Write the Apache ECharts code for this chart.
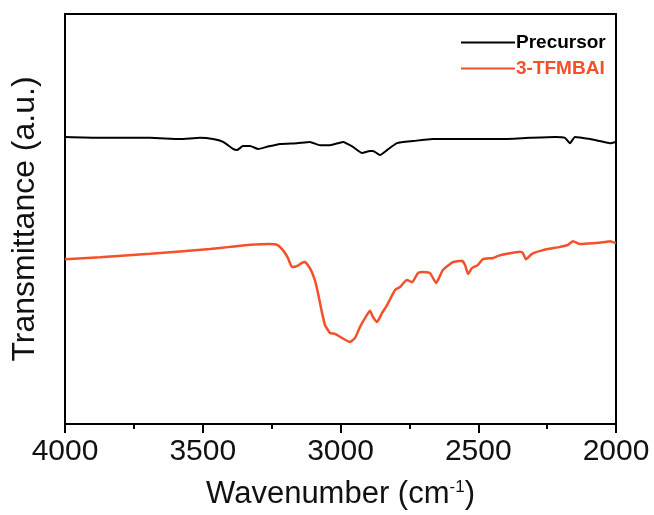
<!DOCTYPE html>
<html>
<head>
<meta charset="utf-8">
<script src="https://cdn.jsdelivr.net/npm/echarts@6/dist/echarts.min.js"></script>
<style>
  html, body { margin: 0; padding: 0; background: #fff; }
  #chart { width: 654px; height: 515px; }
</style>
</head>
<body>
<div id="chart"></div>
<script>
// wavenumber (cm-1) and transmittance (a.u.)
const precursorWn = [4000, 3873, 3691, 3583, 3510, 3463, 3426, 3390, 3376, 3354, 3328, 3299, 3267, 3220, 3158, 3111, 3074, 3038, 2991, 2955, 2922, 2893, 2882, 2857, 2831, 2795, 2737, 2664, 2603, 2421, 2312, 2221, 2185, 2167, 2149, 2094, 2058, 2022, 2000];
const precursorT = [70.0, 69.8, 69.8, 69.5, 69.8, 69.5, 68.8, 67.1, 66.8, 67.8, 67.8, 67.1, 67.6, 68.3, 68.5, 68.8, 68.0, 68.0, 68.8, 67.6, 66.1, 66.6, 66.6, 65.6, 66.8, 68.5, 69.0, 69.5, 69.5, 69.5, 69.8, 70.0, 69.8, 68.5, 70.0, 69.5, 69.0, 68.5, 68.8];

const tfmbaiWn = [4000, 3873, 3691, 3474, 3401, 3328, 3256, 3230, 3209, 3191, 3176, 3158, 3140, 3129, 3111, 3093, 3082, 3067, 3056, 3038, 3020, 2995, 2966, 2947, 2929, 2904, 2893, 2882, 2867, 2849, 2831, 2802, 2784, 2759, 2740, 2719, 2701, 2675, 2653, 2628, 2592, 2559, 2548, 2537, 2523, 2501, 2483, 2446, 2428, 2396, 2348, 2338, 2327, 2305, 2265, 2203, 2174, 2156, 2131, 2083, 2040, 2022, 2000];
const tfmbaiT = [40.2, 40.7, 41.5, 42.7, 43.2, 43.7, 43.9, 43.7, 42.4, 40.5, 38.3, 38.5, 39.3, 39.5, 38.0, 35.1, 32.0, 27.1, 24.1, 22.2, 22.0, 21.0, 20.0, 21.0, 23.7, 26.6, 27.6, 26.1, 24.9, 27.1, 29.0, 32.7, 33.4, 35.1, 34.6, 36.8, 37.1, 36.8, 34.4, 37.6, 39.5, 39.8, 38.8, 36.6, 38.0, 38.8, 40.2, 40.5, 41.0, 41.5, 42.0, 41.7, 40.2, 41.5, 42.4, 43.2, 43.7, 44.6, 43.9, 44.1, 44.4, 44.6, 44.1];

const pair = (xs, ys) => xs.map((x, i) => [x, ys[i]]);

const FONT = "Liberation Sans, Arial, sans-serif";
const RED = "#f4502a";

const chart = echarts.init(document.getElementById("chart"));

const option = {
  backgroundColor: "#fff",
  animation: false,
  grid: {
    left: 65,
    right: 38,
    top: 14,
    bottom: 91,
    show: true,
    borderColor: "#000",
    borderWidth: 2,
  },
  legend: {
    orient: "vertical",
    left: 456,
    top: 28,
    icon: "rect",
    itemWidth: 54,
    itemHeight: 2,
    itemGap: 7,
    textStyle: {
      fontFamily: FONT,
      fontSize: 19,
      fontWeight: "bold",
      padding: [0, 0, 0, -4],
    },
    data: [
      { name: "Precursor", textStyle: { color: "#000" } },
      { name: "3-TFMBAI", textStyle: { color: RED } },
    ],
  },
  xAxis: {
    type: "value",
    inverse: true,
    min: 2000,
    max: 4000,
    interval: 500,
    name: "{a|Wavenumber (cm}{s|-1}{a|)}",
    nameLocation: "middle",
    nameGap: 55,
    nameTextStyle: {
      rich: {
        a: { fontFamily: FONT, fontSize: 31, color: "#111" },
        s: { fontFamily: FONT, fontSize: 17, color: "#111", verticalAlign: "top", padding: [0, 0, 14, 0] },
      },
    },
    axisLine: { lineStyle: { color: "#000", width: 2 } },
    axisTick: { show: true, length: 9, lineStyle: { color: "#000", width: 2 } },
    minorTick: { show: true, splitNumber: 2, length: 5, lineStyle: { color: "#000", width: 2 } },
    axisLabel: {
      fontFamily: FONT,
      fontSize: 30,
      color: "#111",
      margin: 13,
      formatter: (v) => String(v),
    },
    splitLine: { show: false },
  },
  yAxis: {
    type: "value",
    min: 0,
    max: 100,
    name: "Transmittance (a.u.)",
    nameLocation: "middle",
    nameGap: 24,
    nameTextStyle: { fontFamily: FONT, fontSize: 32, color: "#111" },
    axisLine: { show: true, lineStyle: { color: "#000", width: 2 } },
    axisTick: { show: false },
    axisLabel: { show: false },
    splitLine: { show: false },
  },
  series: [
    {
      name: "Precursor",
      type: "line",
      symbol: "none",
      smooth: 0.15,
      color: "#000",
      lineStyle: { color: "#000", width: 2 },
      data: pair(precursorWn, precursorT),
    },
    {
      name: "3-TFMBAI",
      type: "line",
      symbol: "none",
      smooth: 0.15,
      color: RED,
      lineStyle: { color: RED, width: 2.5 },
      data: pair(tfmbaiWn, tfmbaiT),
    },
  ],
};

chart.setOption(option);
</script>
</body>
</html>
